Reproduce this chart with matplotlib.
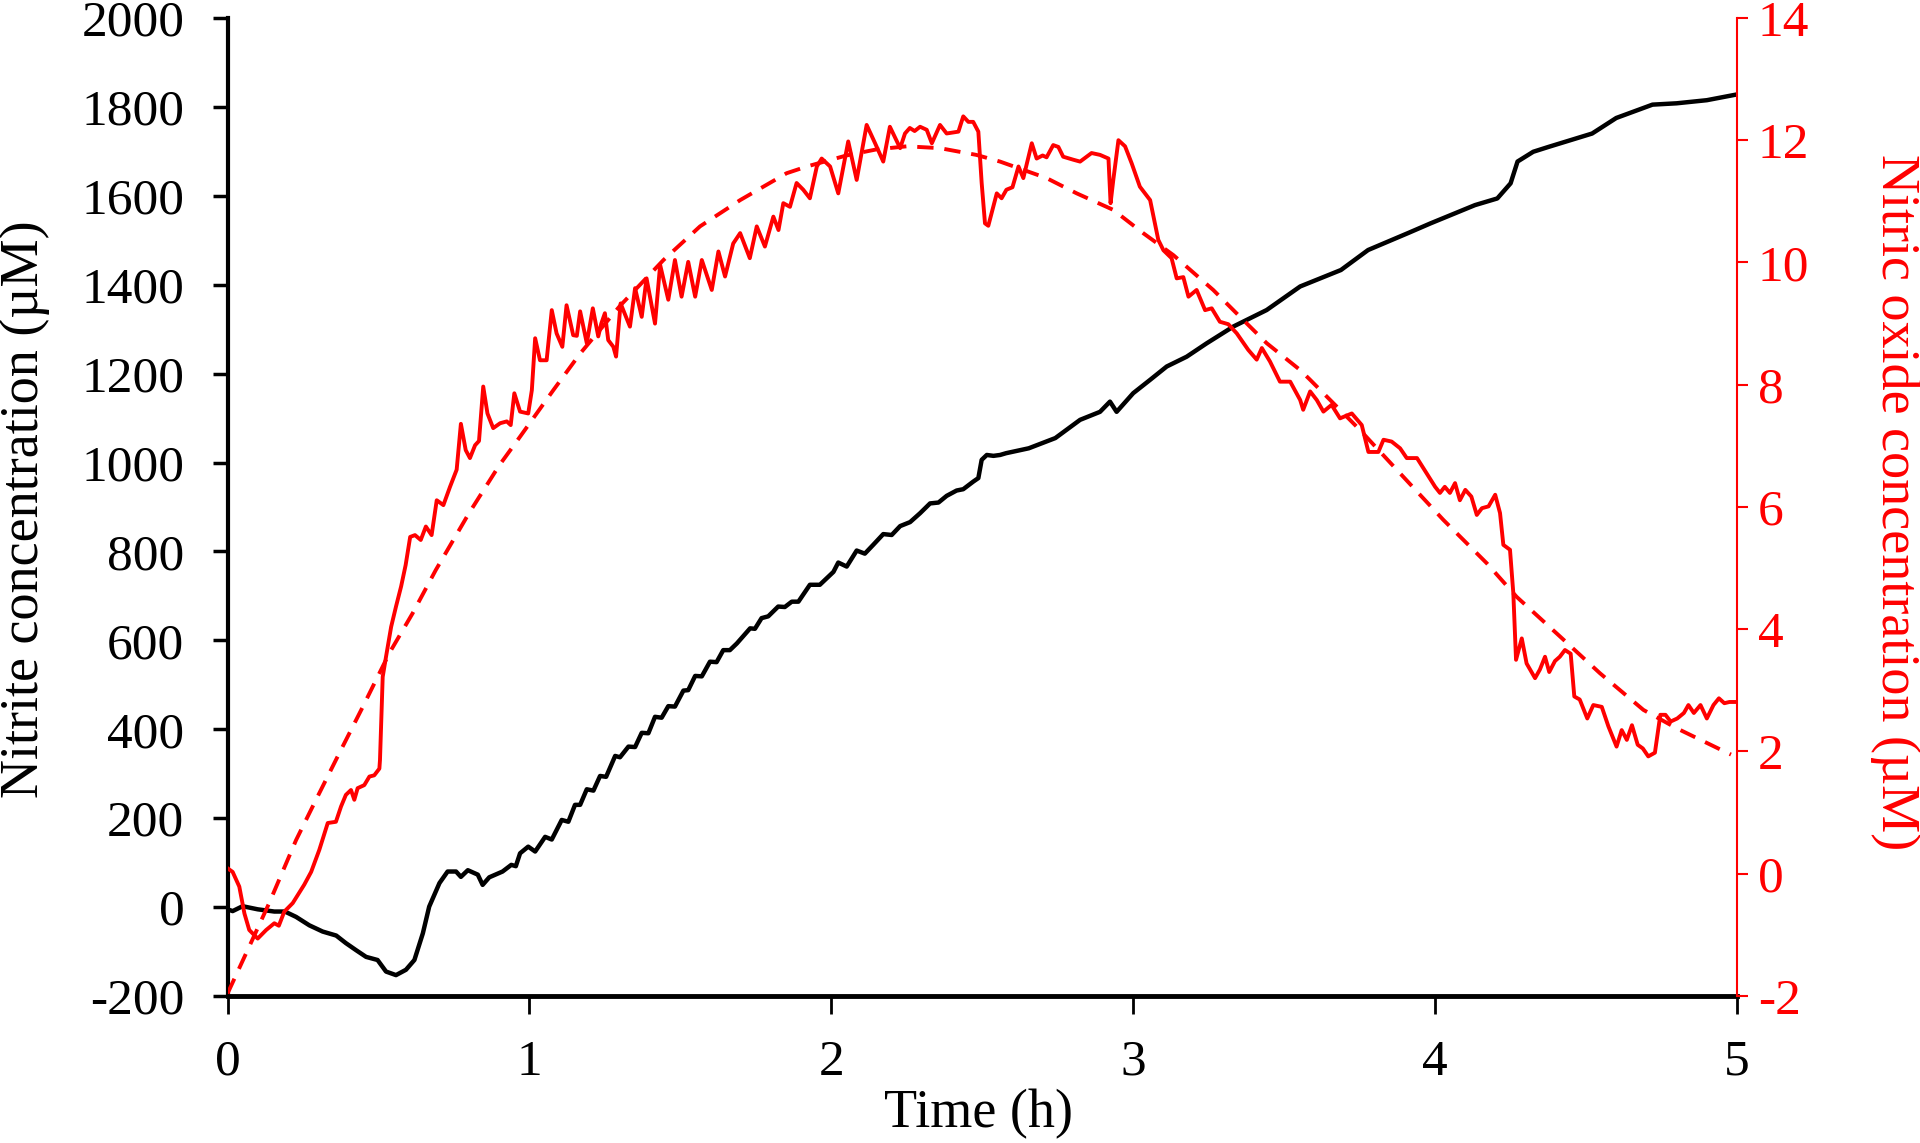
import numpy as np
import matplotlib
matplotlib.use("Agg")
import matplotlib.pyplot as plt

plt.rcParams['font.family'] = ['Liberation Serif', 'DejaVu Serif']
plt.rcParams['axes.unicode_minus'] = False

# Nitrite concentration (black, left axis, uM)
t_nitrite = [0, 0.017, 0.05, 0.1, 0.155, 0.19, 0.227, 0.271, 0.315, 0.36, 0.392, 0.426,
             0.459, 0.497, 0.525, 0.558, 0.591, 0.619, 0.647, 0.668, 0.702, 0.729, 0.757,
             0.773, 0.796, 0.829, 0.845, 0.867, 0.911, 0.94, 0.955, 0.969, 0.996, 1.019,
             1.052, 1.074, 1.107, 1.129, 1.151, 1.168, 1.19, 1.212, 1.234, 1.254, 1.284,
             1.3, 1.328, 1.35, 1.372, 1.394, 1.416, 1.438, 1.46, 1.482, 1.51, 1.526, 1.549,
             1.571, 1.598, 1.62, 1.642, 1.664, 1.687, 1.709, 1.731, 1.747, 1.769, 1.791,
             1.824, 1.846, 1.869, 1.891, 1.929, 1.962, 1.99, 2.007, 2.023, 2.051, 2.084,
             2.111, 2.139, 2.172, 2.2, 2.228, 2.261, 2.294, 2.327, 2.355, 2.382, 2.415,
             2.437, 2.47, 2.487, 2.498, 2.515, 2.537, 2.559, 2.579, 2.654, 2.742, 2.824,
             2.89, 2.923, 2.945, 3.0, 3.056, 3.111, 3.177, 3.243, 3.332, 3.442, 3.553,
             3.688, 3.778, 3.91, 3.985, 4.132, 4.206, 4.25, 4.273, 4.325, 4.376, 4.52, 4.6,
             4.72, 4.8, 4.9, 5.0]
nitrite = [-5, -9, 2, -5, -10, -10, -22, -41, -55, -64, -81, -97,
           -112, -119, -145, -153, -141, -119, -59, 1, 54, 80, 80,
           68, 83, 73, 50, 67, 80, 95, 92, 121, 136, 125,
           158, 152, 196, 192, 230, 230, 265, 262, 295, 293, 340,
           337, 361, 360, 392, 391, 428, 426, 452, 451, 487, 488, 520,
           519, 552, 551, 578, 578, 593, 610, 627, 626, 650, 654,
           676, 675, 687, 687, 725, 725, 743, 754, 775, 766, 802,
           795, 815, 839, 837, 857, 866, 886, 908, 910, 925, 937,
           940, 957, 965, 1006, 1017, 1015, 1017, 1021, 1032, 1055, 1096,
           1114, 1137, 1114, 1156, 1186, 1216, 1238, 1268, 1306, 1343, 1396,
           1433, 1478, 1516, 1538, 1579, 1594, 1628, 1677, 1699, 1710, 1740, 1775,
           1805, 1808, 1815, 1828]

# Nitric oxide concentration (red solid, right axis, uM)
t_no = [0.0, 0.017, 0.039, 0.056, 0.072, 0.1, 0.128, 0.155, 0.17, 0.188, 0.216, 0.254,
        0.277, 0.304, 0.332, 0.359, 0.376, 0.392, 0.409, 0.42, 0.431, 0.453, 0.47, 0.486,
        0.503, 0.505, 0.514, 0.525, 0.542, 0.558, 0.575, 0.59, 0.605, 0.621, 0.64, 0.657,
        0.676, 0.693, 0.715, 0.737, 0.759, 0.773, 0.789, 0.803, 0.82, 0.833, 0.847, 0.861,
        0.88, 0.903, 0.925, 0.938, 0.95, 0.969, 0.996, 1.008, 1.019, 1.035, 1.057, 1.074,
        1.09, 1.109, 1.123, 1.145, 1.157, 1.168, 1.19, 1.21, 1.228, 1.238, 1.25, 1.261,
        1.278, 1.287, 1.302, 1.333, 1.35, 1.372, 1.388, 1.416, 1.433, 1.46, 1.482, 1.504,
        1.526, 1.549, 1.571, 1.604, 1.626, 1.648, 1.675, 1.698, 1.73, 1.753, 1.78, 1.808,
        1.825, 1.841, 1.863, 1.885, 1.907, 1.929, 1.952, 1.968, 1.996, 2.023, 2.056, 2.084,
        2.117, 2.145, 2.172, 2.194, 2.228, 2.244, 2.26, 2.276, 2.294, 2.316, 2.333, 2.36,
        2.382, 2.421, 2.437, 2.454, 2.47, 2.487, 2.498, 2.509, 2.52, 2.548, 2.564, 2.58,
        2.6, 2.62, 2.636, 2.664, 2.68, 2.7, 2.713, 2.735, 2.752, 2.768, 2.802, 2.824,
        2.862, 2.89, 2.918, 2.925, 2.934, 2.951, 2.973, 2.995, 3.022, 3.056, 3.083, 3.1,
        3.127, 3.144, 3.166, 3.183, 3.21, 3.238, 3.26, 3.287, 3.315, 3.343, 3.381, 3.409,
        3.426, 3.453, 3.486, 3.52, 3.553, 3.563, 3.586, 3.608, 3.63, 3.657, 3.685, 3.724,
        3.757, 3.779, 3.812, 3.829, 3.856, 3.884, 3.906, 3.94, 3.972, 4.0, 4.016, 4.032,
        4.049, 4.066, 4.082, 4.1, 4.12, 4.138, 4.155, 4.177, 4.199, 4.215, 4.226, 4.248,
        4.259, 4.268, 4.287, 4.303, 4.331, 4.347, 4.364, 4.378, 4.397, 4.413, 4.43, 4.449,
        4.461, 4.479, 4.504, 4.524, 4.552, 4.574, 4.601, 4.618, 4.635, 4.652, 4.671, 4.688,
        4.706, 4.728, 4.746, 4.763, 4.78, 4.802, 4.824, 4.839, 4.857, 4.879, 4.9, 4.922,
        4.94, 4.958, 4.975, 5.0]
no = [0.09, 0.03, -0.21, -0.65, -0.92, -1.06, -0.92, -0.81, -0.85, -0.62, -0.48, -0.18,
      0.03, 0.39, 0.83, 0.85, 1.1, 1.29, 1.37, 1.21, 1.4, 1.45, 1.59, 1.61,
      1.72, 1.86, 3.22, 3.55, 4.04, 4.37, 4.7, 5.05, 5.51, 5.54, 5.46, 5.68,
      5.54, 6.11, 6.03, 6.33, 6.61, 7.36, 6.93, 6.8, 7.01, 7.08, 7.97, 7.53,
      7.29, 7.37, 7.4, 7.34, 7.86, 7.56, 7.53, 7.91, 8.76, 8.4, 8.4, 9.22,
      8.84, 8.62, 9.3, 8.81, 8.8, 9.2, 8.68, 9.25, 8.79, 9.0, 9.17, 8.73,
      8.62, 8.46, 9.33, 8.95, 9.58, 9.11, 9.74, 9.0, 9.96, 9.39, 10.04, 9.44,
      10.01, 9.44, 10.04, 9.55, 10.18, 9.77, 10.31, 10.48, 10.07, 10.59, 10.26, 10.75,
      10.53, 10.97, 10.91, 11.3, 11.19, 11.05, 11.57, 11.7, 11.57, 11.13, 11.98, 11.35,
      12.25, 11.95, 11.65, 12.22, 11.87, 12.11, 12.2, 12.15, 12.22, 12.17, 11.95, 12.25,
      12.11, 12.14, 12.39, 12.3, 12.3, 12.14, 11.3, 10.64, 10.6, 11.13, 11.05, 11.19,
      11.23, 11.57, 11.38, 11.95, 11.7, 11.75, 11.72, 11.92, 11.89, 11.73, 11.68, 11.65,
      11.79, 11.76, 11.7, 10.97, 11.35, 12.0, 11.9, 11.62, 11.24, 11.02, 10.37, 10.2,
      10.07, 9.74, 9.76, 9.44, 9.55, 9.22, 9.25, 9.03, 8.99, 8.84, 8.57, 8.41,
      8.6, 8.38, 8.05, 8.05, 7.75, 7.59, 7.89, 7.75, 7.56, 7.67, 7.45, 7.53,
      7.34, 6.9, 6.9, 7.1, 7.07, 6.96, 6.8, 6.8, 6.55, 6.33, 6.23, 6.33,
      6.23, 6.39, 6.11, 6.28, 6.17, 5.87, 5.98, 6.01, 6.2, 5.9, 5.38, 5.3,
      4.59, 3.5, 3.85, 3.44, 3.2, 3.34, 3.55, 3.3, 3.48, 3.55, 3.66, 3.6,
      2.9, 2.85, 2.54, 2.76, 2.73, 2.41, 2.08, 2.35, 2.19, 2.43, 2.11, 2.05,
      1.92, 1.98, 2.6, 2.6, 2.49, 2.54, 2.63, 2.76, 2.63, 2.76, 2.54, 2.76,
      2.87, 2.79, 2.81, 2.81]

# Fitted nitric oxide trend (red dashed, right axis)
t_fit = [0, 0.072, 0.138, 0.227, 0.293, 0.37, 0.448, 0.536, 0.613, 0.69, 0.8, 0.9,
         0.969, 1.079, 1.168, 1.3, 1.444, 1.565, 1.698, 1.852, 1.919, 2.05, 2.15, 2.25,
         2.36, 2.48, 2.559, 2.713, 2.813, 2.934, 3.033, 3.133, 3.265, 3.354, 3.442, 3.553,
         3.586, 3.751, 3.884, 4.027, 4.171, 4.27, 4.414, 4.546, 4.69, 4.8, 4.971, 4.98]
no_fit = [-1.96, -1.19, -0.48, 0.55, 1.21, 1.97, 2.73, 3.61, 4.26, 4.97, 5.9, 6.68,
          7.15, 7.91, 8.51, 9.29, 10.04, 10.59, 11.02, 11.46, 11.57, 11.75, 11.85, 11.9,
          11.87, 11.76, 11.65, 11.38, 11.13, 10.86, 10.48, 10.12, 9.55, 9.11, 8.68, 8.24,
          8.08, 7.26, 6.55, 5.79, 5.08, 4.53, 3.88, 3.28, 2.68, 2.38, 1.97, 1.95]

fig = plt.figure(figsize=(19.2, 11.43), dpi=100)
ax = fig.add_axes([0.1185, 0.1286, 0.7862, 0.8557])
ax2 = ax.twinx()

ax.plot(t_nitrite, nitrite, color='black', lw=3.2)
ax2.plot(t_fit, no_fit, color='red', lw=2.8, linestyle=(0, (4.2, 2.8)))
ax2.plot(t_no, no, color='red', lw=2.8)

ax.set_xlim(0, 5)
ax.set_ylim(-200, 2000)
ax.set_yticks(np.arange(-200, 2001, 200))
ax.set_xticks(np.arange(0, 6, 1))
ax2.set_ylim(-2, 14)
ax2.set_yticks(np.arange(-2, 15, 2))

for s in ['top', 'right']:
    ax.spines[s].set_visible(False)
for s in ['top', 'left', 'bottom']:
    ax2.spines[s].set_visible(False)
ax.spines['left'].set_linewidth(3)
ax.spines['bottom'].set_linewidth(3.5)
ax2.spines['right'].set_color('red')
ax2.spines['right'].set_linewidth(1.5)

ax.tick_params(axis='y', direction='out', length=11, width=2.5, pad=20, labelsize=37)
ax.tick_params(axis='x', direction='out', length=13, width=2, pad=18, labelsize=37)
ax2.tick_params(axis='y', direction='out', length=8, width=1.5, pad=7, labelsize=37,
                colors='red')

fig.text(0.013, 0.5547, 'Nitrite concentration (µM)', rotation=90, ha='center',
         va='center', fontsize=39)
fig.text(0.987, 0.561, 'Nitric oxide concentration (µM)', rotation=270, ha='center',
         va='center', fontsize=39, color='red')
fig.text(0.5096, 0.0254, 'Time (h)', ha='center', va='center', fontsize=39)

fig.savefig('out.png', dpi=100)
